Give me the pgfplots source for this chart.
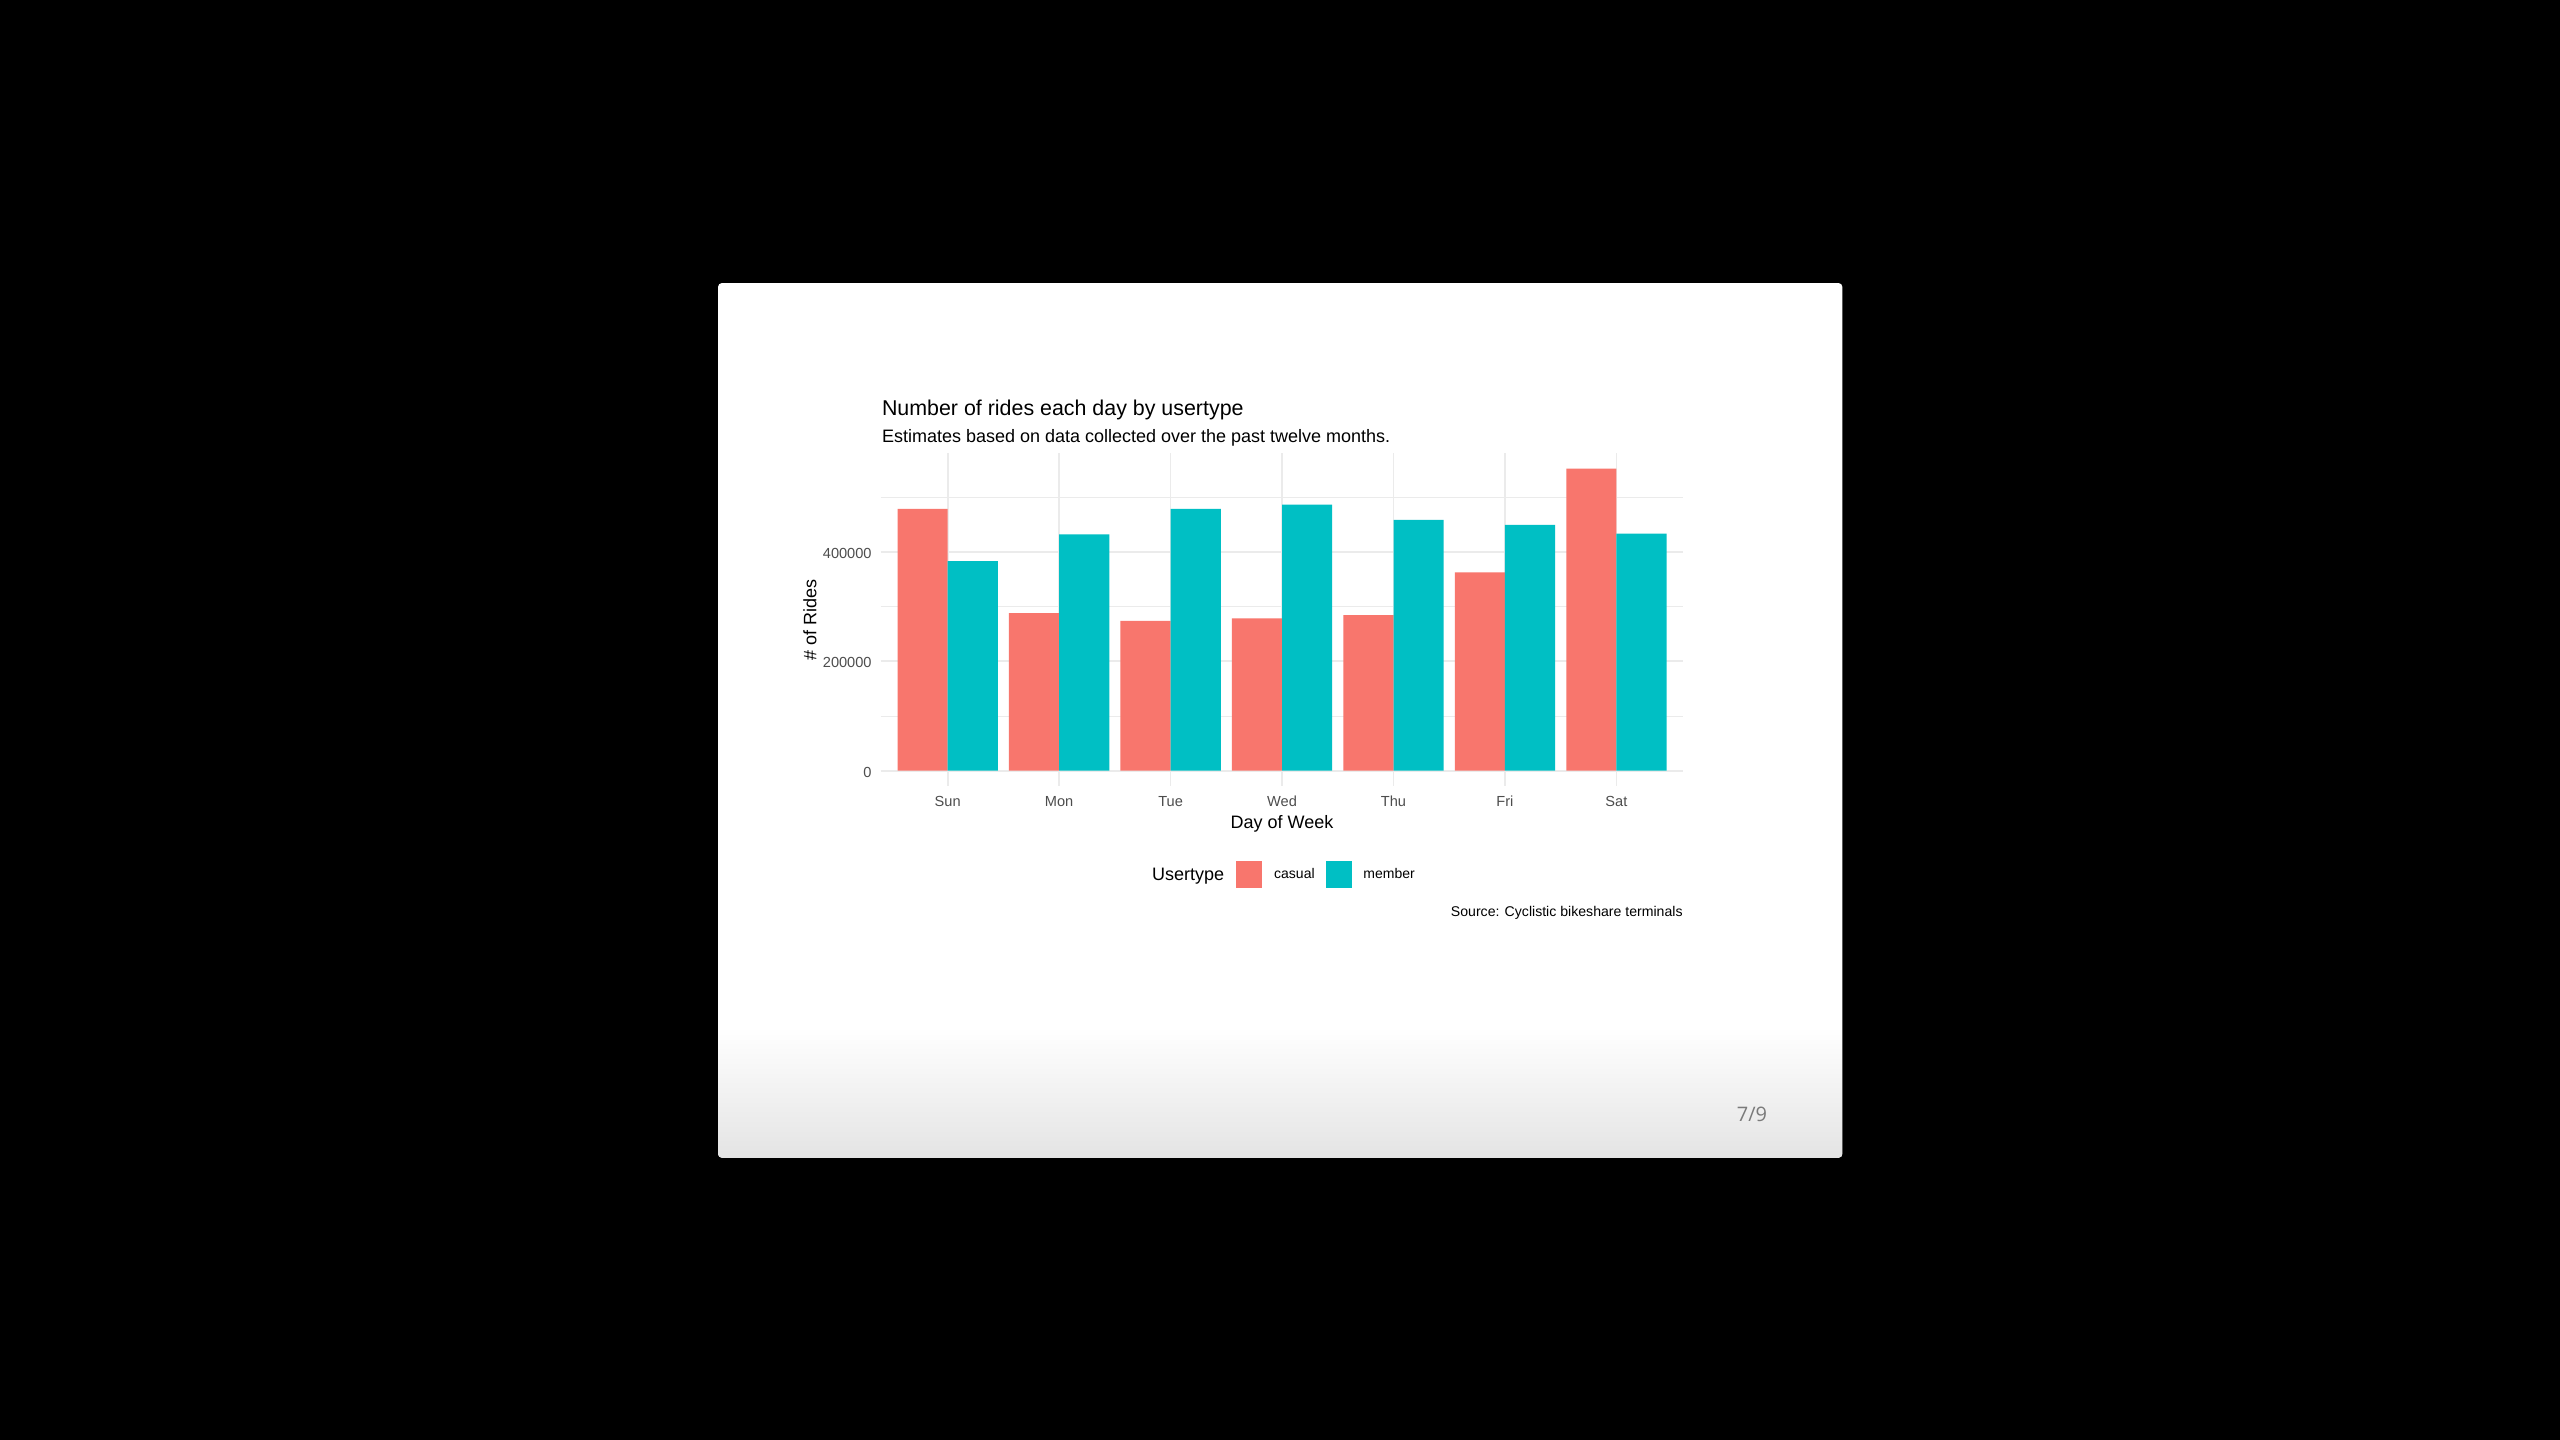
\documentclass[border=0pt]{standalone}
\usepackage{pgfplots}
\pgfplotsset{compat=1.18}
\usepackage{fontspec}
\setmainfont{Liberation Sans}
\newfontfamily\pagefont{Open Sans}

\definecolor{casual}{HTML}{F8766D}
\definecolor{member}{HTML}{00BFC4}
\definecolor{gridc}{HTML}{EBEBEB}
\definecolor{tickc}{HTML}{4D4D4D}
\definecolor{shadeg}{HTML}{E4E4E4}
\definecolor{pagegray}{HTML}{7A7A7A}

\begin{document}
\begin{tikzpicture}
% slide frame (1 screen px = 0.5pt)
\fill[black] (0pt,0pt) rectangle (1280pt,-720pt);
\fill[white, rounded corners=2pt] (359pt,-141.5pt) rectangle (921.2pt,-578.9pt);
\shade[top color=white, bottom color=shadeg, rounded corners=2pt] (359pt,-513.5pt) rectangle (921.2pt,-578.9pt);
\node[font=\pagefont\fontsize{10}{12}\selectfont, text=pagegray, inner sep=0pt] at (876pt,-557pt) {7/9};

% titles
\node[anchor=base west, inner sep=0pt, font=\fontsize{10.7}{12}\selectfont] at (440.8pt,-207.6pt) {Number of rides each day by usertype};
\node[anchor=base west, inner sep=0pt, font=\fontsize{9}{11}\selectfont] at (440.8pt,-221.3pt) {Estimates based on data collected over the past twelve months.};

\begin{axis}[
  at={(440.4pt,-392.9pt)}, anchor=south west,
  scale only axis, width=401.25pt, height=166.2pt,
  xmin=0.4, xmax=7.6, ymin=-27625, ymax=580125,
  axis line style={draw=none},
  major tick length=0pt, minor tick length=0pt,
  scaled y ticks=false,
  xtick={1,2,3,4,5,6,7},
  xticklabels={Sun,Mon,Tue,Wed,Thu,Fri,Sat},
  ytick={0,200000,400000},
  yticklabels={0,200000,400000},
  minor ytick={100000,300000,500000},
  xmajorgrids, ymajorgrids, yminorgrids,
  major grid style={draw=gridc, line width=0.9pt},
  minor grid style={draw=gridc, line width=0.5pt},
  ticklabel style={font=\fontsize{7.3}{8}\selectfont, text=tickc, inner sep=0pt},
  xticklabel style={anchor=base, yshift=-10.1pt},
  yticklabel style={anchor=east, xshift=-4.4pt, yshift=-0.8pt},
  legend columns=-1,
  legend style={at={(0.4426,-0.2668)}, anchor=west, draw=none, fill=none,
    inner sep=0pt, font=\fontsize{7}{8}\selectfont,
    nodes={inner sep=0pt},
    /tikz/every odd column/.append style={column sep=6pt},
    /tikz/every even column/.append style={column sep=5.5pt}},
]
\addplot[ybar, bar width=0.45, bar shift=-0.225, fill=casual, draw=none, forget plot] coordinates {
  (1,478600) (2,288200) (3,274100) (4,278400) (5,284500) (6,362600) (7,552500)
};
\addplot[ybar, bar width=0.45, bar shift=0.225, fill=member, draw=none, forget plot] coordinates {
  (1,383400) (2,432200) (3,478600) (4,486600) (5,458500) (6,449300) (7,433500)
};
\addlegendimage{legend image code/.code={\fill[casual] (0pt,-6.3pt) rectangle (12.5pt,6.3pt);}}
\addlegendentry{casual}
\addlegendimage{legend image code/.code={\fill[member] (0pt,-6.3pt) rectangle (12.5pt,6.3pt);}}
\addlegendentry{member}
\end{axis}

% axis titles, legend title, caption
\node[anchor=base, inner sep=0pt, font=\fontsize{9}{11}\selectfont] at (641pt,-414.2pt) {Day of Week};
\node[rotate=90, inner sep=0pt, font=\fontsize{9}{11}\selectfont] at (405pt,-309.8pt) {\# of Rides};
\node[anchor=base east, inner sep=0pt, font=\fontsize{9}{11}\selectfont] at (612.3pt,-440.4pt) {Usertype};
\node[anchor=base east, inner sep=0pt, font=\fontsize{7.05}{9}\selectfont] at (841.5pt,-458pt) {Source: Cyclistic bikeshare terminals};
\end{tikzpicture}
\end{document}
